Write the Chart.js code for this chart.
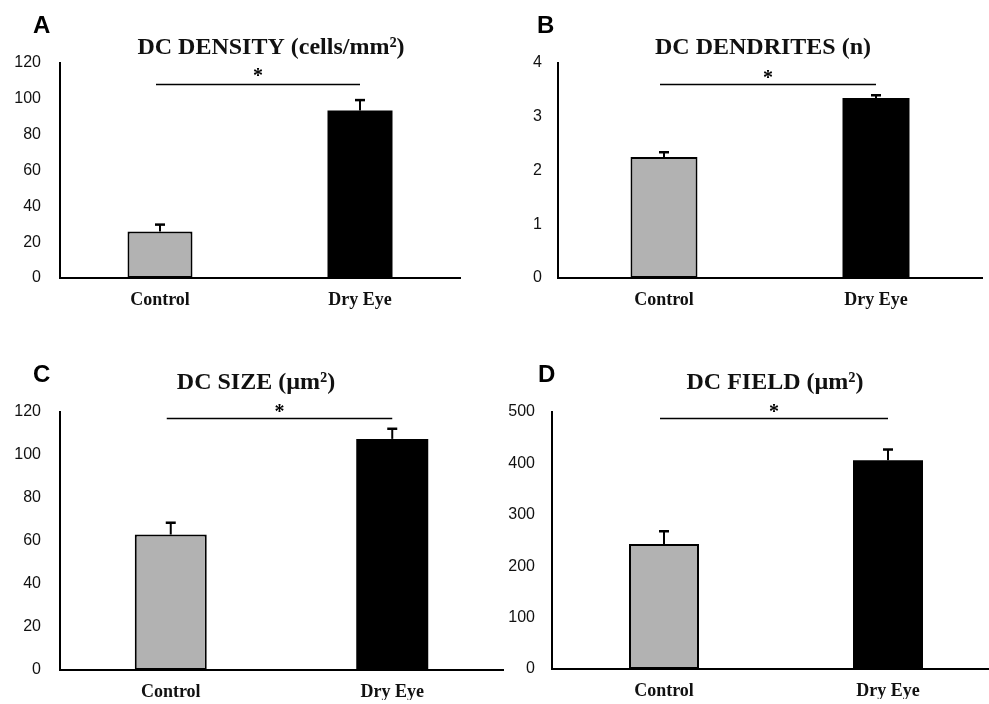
<!DOCTYPE html>
<html><head><meta charset="utf-8">
<script src="https://cdn.jsdelivr.net/npm/chart.js@4.4.0/dist/chart.umd.min.js"></script>
<style>
html,body{margin:0;padding:0;background:#fff;overflow:hidden;}
#wrap{position:relative;width:989px;height:704px;overflow:hidden;background:#fff;}
canvas{position:absolute;}
</style></head><body>
<div id="wrap">
<canvas id="cA" width="489" height="330" style="left:0;top:0"></canvas>
<canvas id="cB" width="500" height="330" style="left:489px;top:0"></canvas>
<canvas id="cC" width="520" height="374" style="left:0;top:330px"></canvas>
<canvas id="cD" width="520" height="374" style="left:489px;top:330px"></canvas>
</div>
<script>
// ---- data ----
const categories = ['Control', 'Dry Eye'];

const densityValues = [26, 93.5];
const densityErrors = [3.8, 5.8];
const densityTicks = [0, 20, 40, 60, 80, 100, 120];

const dendriteValues = [2.25, 3.35];
const dendriteErrors = [0.09, 0.05];
const dendriteTicks = [0, 1, 2, 3, 4];

const sizeValues = [63, 107.5];
const sizeErrors = [5.5, 4.7];
const sizeTicks = [0, 20, 40, 60, 80, 100, 120];

const fieldValues = [243, 406];
const fieldErrors = [25, 21];
const fieldTicks = [0, 100, 200, 300, 400, 500];

const panelLetters = ['A', 'B', 'C', 'D'];
const panelTitles = ['DC DENSITY (cells/mm²)', 'DC DENDRITES (n)', 'DC SIZE (µm²)', 'DC FIELD (µm²)'];
const sigLevels = [108.3, 3.61, 117.2, 488];
const sigMark = '*';

// ---- plugin: error bars, significance line, panel letter and title ----
const annot = {
  id: 'annot',
  afterDatasetsDraw(chart, args, o) {
    const ctx = chart.ctx;
    const ys = chart.scales.y;
    const meta = chart.getDatasetMeta(0);
    ctx.save();
    ctx.strokeStyle = '#000';
    ctx.lineCap = 'butt';
    o.values.forEach((v, i) => {
      const x = meta.data[i].x;
      const y0 = ys.getPixelForValue(v);
      const y1 = ys.getPixelForValue(v + o.errors[i]);
      ctx.lineWidth = 2;
      ctx.beginPath(); ctx.moveTo(x, y0); ctx.lineTo(x, y1); ctx.stroke();
      ctx.lineWidth = 2.5;
      ctx.beginPath(); ctx.moveTo(x - 5, y1); ctx.lineTo(x + 5, y1); ctx.stroke();
    });
    const sy = Math.round(ys.getPixelForValue(o.sig)) + 0.5;
    const sx0 = meta.data[0].x - 4, sx1 = meta.data[1].x;
    ctx.lineWidth = 1.5;
    ctx.beginPath(); ctx.moveTo(sx0, sy); ctx.lineTo(sx1, sy); ctx.stroke();
    ctx.fillStyle = '#000';
    ctx.textAlign = 'center';
    ctx.textBaseline = 'alphabetic';
    ctx.font = 'bold 20px "Liberation Serif"';
    ctx.fillText(sigMark, (sx0 + sx1) / 2, sy + o.starDy);
    ctx.fillStyle = '#111';
    ctx.font = 'bold 24px "Liberation Serif"';
    ctx.fillText(o.title, o.titleX, o.titleY);
    ctx.textAlign = 'left';
    ctx.fillStyle = '#000';
    ctx.font = 'bold 24px "Liberation Sans"';
    ctx.fillText(o.letter, o.letterX, o.letterY);
    ctx.restore();
  }
};

function makePanel(id, values, errors, ticks, idx, geo) {
  new Chart(document.getElementById(id), {
    type: 'bar',
    data: {
      labels: categories,
      datasets: [{
        data: values,
        backgroundColor: ['#b2b2b2', '#000000'],
        borderColor: '#000000',
        borderWidth: [2, 0],
        borderSkipped: false,
        barPercentage: geo.barPct,
        categoryPercentage: 1
      }]
    },
    options: {
      responsive: false,
      animation: false,
      devicePixelRatio: 1,
      layout: { padding: geo.pad },
      plugins: {
        legend: { display: false },
        title: { display: false },
        tooltip: { enabled: false },
        annot: {
          values: values, errors: errors, sig: sigLevels[idx],
          title: panelTitles[idx], titleX: geo.titleX, titleY: geo.titleY,
          letter: panelLetters[idx], letterX: geo.letterX, letterY: geo.letterY,
          starDy: geo.starDy
        }
      },
      scales: {
        x: {
          grid: { display: false, drawTicks: false },
          border: { display: true, color: '#000', width: 2 },
          ticks: { color: '#111', padding: geo.xPad, font: { family: 'Liberation Serif', weight: 'bold', size: 18 } },
          afterFit(s) { s.height = geo.xH; }
        },
        y: {
          min: ticks[0], max: ticks[ticks.length - 1],
          grid: { display: false, drawTicks: false },
          border: { display: true, color: '#000', width: 2 },
          ticks: { stepSize: ticks[1] - ticks[0], color: '#111', padding: geo.yPad, font: { family: 'Liberation Sans', size: 16 } },
          afterFit(s) { s.width = geo.yW; }
        }
      }
    },
    plugins: [annot]
  });
}

makePanel('cA', densityValues, densityErrors, densityTicks, 0, {
  pad: { left: 0, top: 63, right: 29, bottom: 12 }, yW: 60, xH: 40, xPad: 12, yPad: 19, barPct: 0.325,
  titleX: 271, titleY: 54, letterX: 33, letterY: 33, starDy: -3
});
makePanel('cB', dendriteValues, dendriteErrors, dendriteTicks, 1, {
  pad: { left: 0, top: 63, right: 7, bottom: 12 }, yW: 69, xH: 40, xPad: 12, yPad: 16, barPct: 0.316,
  titleX: 274, titleY: 54, letterX: 48, letterY: 33, starDy: -1
});
makePanel('cC', sizeValues, sizeErrors, sizeTicks, 2, {
  pad: { left: 0, top: 82, right: 17, bottom: 4 }, yW: 60, xH: 30, xPad: 12, yPad: 19, barPct: 0.325,
  titleX: 256, titleY: 59, letterX: 33, letterY: 52, starDy: -1
});
makePanel('cD', fieldValues, fieldErrors, fieldTicks, 3, {
  pad: { left: 0, top: 82, right: 9, bottom: 5 }, yW: 63, xH: 30, xPad: 12, yPad: 17, barPct: 0.3125,
  titleX: 286, titleY: 59, letterX: 49, letterY: 52, starDy: -1
});
</script>
</body></html>
